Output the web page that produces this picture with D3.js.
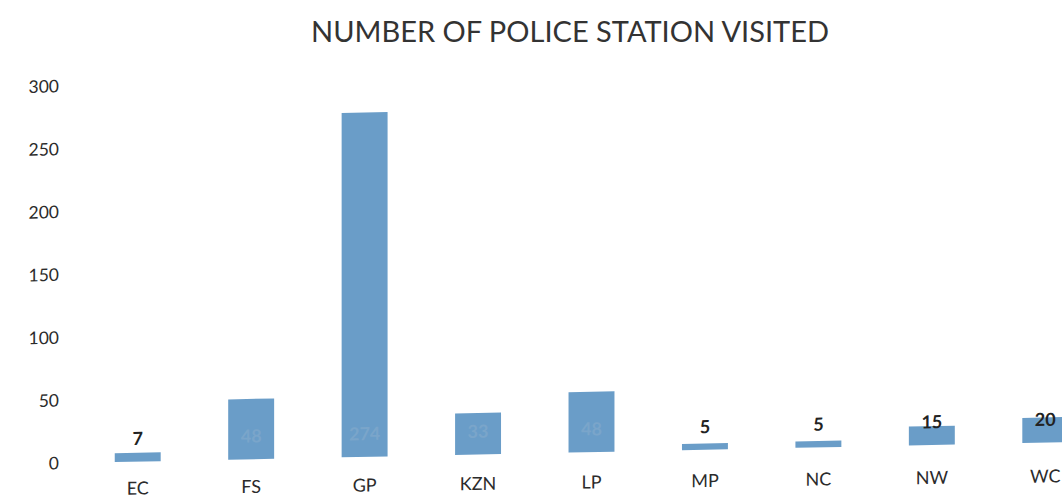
<!DOCTYPE html>
<html>
<head>
<meta charset="utf-8">
<script src="https://cdn.jsdelivr.net/npm/d3@7"></script>
<style>
  html, body { margin: 0; padding: 0; background: #fff; }
  svg { display: block; font-family: Lato, "Open Sans", sans-serif; }
</style>
</head>
<body>
<svg id="chart" width="1062" height="501"></svg>
<script>
// Police stations visited, per province
const provinces = ["EC", "FS", "GP", "KZN", "LP", "MP", "NC", "NW", "WC"];
const visited   = [7, 48, 274, 33, 48, 5, 5, 15, 20];
const yTicks    = [0, 50, 100, 150, 200, 250, 300];
const titleText = "NUMBER OF POLICE STATION VISITED";

const svg = d3.select("#chart");

const x = d3.scaleBand()
  .domain(provinces)
  .range([81, 1102])
  .paddingInner(0.595)
  .paddingOuter(0.2975);

const y = d3.scaleLinear()
  .domain([0, 300])
  .range([464.5, 87.5]);

// title
svg.append("text")
  .attr("x", 570)
  .attr("y", 42)
  .attr("text-anchor", "middle")
  .attr("font-size", 29)
  .attr("fill", "#333")
  .text(titleText);

// the plot sits on a slightly slanted page
const plot = svg.append("g").attr("transform", "skewY(-1.2)");

// value axis: labels only
const yAxis = plot.append("g")
  .attr("transform", "translate(59,0)")
  .call(d3.axisLeft(y).tickValues(yTicks).tickSize(0).tickPadding(0));
yAxis.select(".domain").remove();
yAxis.selectAll("text")
  .attr("font-family", "Lato, 'Open Sans', sans-serif")
  .attr("font-size", 17.5)
  .attr("fill", "#2b2b2b");

// bars
plot.selectAll("rect.bar")
  .data(provinces)
  .join("rect")
  .attr("class", "bar")
  .attr("x", d => x(d))
  .attr("width", x.bandwidth())
  .attr("y", (d, i) => y(visited[i]))
  .attr("height", (d, i) => y(0) - y(visited[i]))
  .attr("fill", "#6a9dc8");

// value labels sit just above the base of each bar
plot.selectAll("text.val")
  .data(provinces)
  .join("text")
  .attr("class", "val")
  .attr("x", d => x(d) + x.bandwidth() / 2)
  .attr("y", y(0) - 23)
  .attr("dy", "0.35em")
  .attr("text-anchor", "middle")
  .attr("font-size", 18)
  .attr("font-weight", 700)
  .attr("fill", (d, i) => (y(0) - y(visited[i]) > 30 ? "#7aa5ca" : "#222"))
  .text((d, i) => visited[i]);

// category labels
const cats = svg.append("g").attr("transform", "skewY(-0.76)");
const xAxis = cats.append("g")
  .attr("transform", "translate(0,490)")
  .call(d3.axisBottom(x).tickSize(0).tickPadding(0));
xAxis.select(".domain").remove();
xAxis.selectAll("text")
  .attr("dy", "0.35em")
  .attr("font-family", "Lato, 'Open Sans', sans-serif")
  .attr("font-size", 18)
  .attr("fill", "#2b2b2b");
</script>
</body>
</html>
